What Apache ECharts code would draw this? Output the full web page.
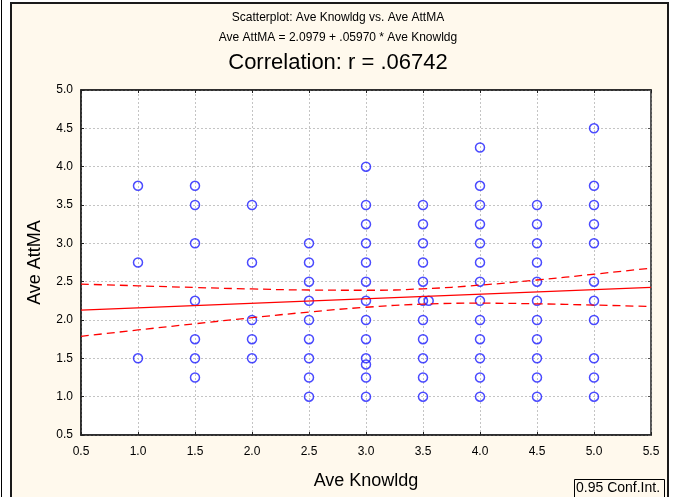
<!DOCTYPE html>
<html>
<head>
<meta charset="utf-8">
<script src="https://cdn.jsdelivr.net/npm/echarts@6/dist/echarts.min.js"></script>
<style>html,body{margin:0;padding:0;background:#fff;}#c{width:676px;height:497px;}</style>
</head>
<body>
<div id="c"></div>
<script>
// Data
var knowldg = [
  1.0,1.0,1.0,
  1.5,1.5,1.5,1.5,1.5,1.5,1.5,
  2.0,2.0,2.0,2.0,2.0,
  2.5,2.5,2.5,2.5,2.5,2.5,2.5,2.5,2.5,
  3.0,3.0,3.0,3.0,3.0,3.0,3.0,3.0,3.0,3.0,3.0,3.0,3.0,
  3.5,3.5,3.5,3.5,3.5,3.5,3.5,3.5,3.5,3.5,3.5,
  3.55,
  4.0,4.0,4.0,4.0,4.0,4.0,4.0,4.0,4.0,4.0,4.0,4.0,4.0,
  4.5,4.5,4.5,4.5,4.5,4.5,4.5,4.5,4.5,4.5,4.5,
  5.0,5.0,5.0,5.0,5.0,5.0,5.0,5.0,5.0,5.0,5.0
];
var attMA = [
  3.75,2.75,1.5,
  3.75,3.5,3.0,2.25,1.75,1.5,1.25,
  3.5,2.75,2.0,1.75,1.5,
  3.0,2.75,2.5,2.25,2.0,1.75,1.5,1.25,1.0,
  4.0,3.5,3.25,3.0,2.75,2.5,2.25,2.0,1.75,1.5,1.42,1.25,1.0,
  3.5,3.25,3.0,2.75,2.5,2.25,2.0,1.75,1.5,1.25,1.0,
  2.25,
  4.25,3.75,3.5,3.25,3.0,2.75,2.5,2.25,2.0,1.75,1.5,1.25,1.0,
  3.5,3.25,3.0,2.75,2.5,2.25,2.0,1.75,1.5,1.25,1.0,
  4.5,3.75,3.5,3.25,3.0,2.5,2.25,2.0,1.5,1.25,1.0
];
// Regression line end points and 0.95 confidence band
var fitX = [0.5, 5.5];
var fitY = [2.128, 2.426];
var bandX = [0.5, 1.0, 1.5, 2.0, 2.5, 3.0, 3.5, 4.0, 4.5, 5.0, 5.5];
var bandUpper = [2.468, 2.446, 2.424, 2.405, 2.391, 2.388, 2.407, 2.455, 2.522, 2.597, 2.677];
var bandLower = [1.787, 1.870, 1.951, 2.030, 2.104, 2.166, 2.207, 2.219, 2.211, 2.195, 2.176];

var titles = ['Scatterplot: Ave Knowldg vs. Ave AttMA', 'Ave AttMA = 2.0979 + .05970 * Ave Knowldg', 'Correlation: r = .06742'];
var xName = 'Ave Knowldg', yName = 'Ave AttMA', legendText = '0.95 Conf.Int.';

function zip(a, b) { return a.map(function (v, i) { return [v, b[i]]; }); }

var FONT = '"Liberation Sans", Arial, sans-serif';
var chart = echarts.init(document.getElementById('c'), null, { renderer: 'canvas' });
var gridLine = { show: true, lineStyle: { color: '#c4c4c4', type: [2, 2], width: 1 } };
var fmt = function (v) { return v.toFixed(1); };
chart.setOption({
  animation: false,
  backgroundColor: '#ffffff',
  graphic: [
    { type: 'line', z: -100, shape: { x1: 1.5, y1: 0, x2: 1.5, y2: 497 }, style: { stroke: '#000', lineWidth: 1 } },
    { type: 'rect', z: -100, shape: { x: 11, y: 3, width: 657, height: 510 }, style: { fill: '#FFF9ED', stroke: '#1a1a1a', lineWidth: 2 } },
    { type: 'rect', z: 100, shape: { x: 574.5, y: 479.5, width: 90, height: 22 }, style: { fill: '#FFF9ED', stroke: '#000', lineWidth: 1 } },
    { type: 'text', z: 101, left: 576, top: 481, style: { text: legendText, font: '14px ' + FONT, fill: '#000' } },
    { type: 'text', z: 101, left: 'center', top: 12, style: { text: titles[0], font: '12px ' + FONT, fill: '#000' } },
    { type: 'text', z: 101, left: 'center', top: 32, style: { text: titles[1], font: '12px ' + FONT, fill: '#000' } },
    { type: 'text', z: 101, left: 'center', top: 52, style: { text: titles[2], font: '22px ' + FONT, fill: '#000' } }
  ],
  grid: { left: 81, right: 25, top: 90, bottom: 62, show: true, backgroundColor: '#ffffff', borderColor: '#222', borderWidth: 1.5 },
  xAxis: [
    { type: 'value', min: 0.5, max: 5.5, interval: 0.5, name: xName, nameLocation: 'middle', nameGap: 37,
      nameTextStyle: { fontFamily: FONT, fontSize: 18, color: '#000' },
      axisLine: { show: true, lineStyle: { color: '#222', width: 1.5 } },
      axisTick: { show: true, inside: true, length: 3, lineStyle: { color: '#222' } },
      axisLabel: { formatter: fmt, fontFamily: FONT, fontSize: 12, color: '#000', margin: 11 },
      splitLine: gridLine },
    { type: 'value', position: 'top', min: 0.5, max: 5.5, interval: 0.5,
      axisLine: { show: true, lineStyle: { color: '#222', width: 1.5 } },
      axisTick: { show: true, inside: true, length: 3, lineStyle: { color: '#222' } },
      axisLabel: { show: false }, splitLine: { show: false } }
  ],
  yAxis: [
    { type: 'value', min: 0.5, max: 5.0, interval: 0.5, name: yName, nameLocation: 'middle', nameGap: 37, nameRotate: 90,
      nameTextStyle: { fontFamily: FONT, fontSize: 18, color: '#000' },
      axisLine: { show: true, lineStyle: { color: '#222', width: 1.5 } },
      axisTick: { show: true, inside: true, length: 3, lineStyle: { color: '#222' } },
      axisLabel: { formatter: fmt, fontFamily: FONT, fontSize: 12, color: '#000', margin: 8 },
      splitLine: gridLine },
    { type: 'value', position: 'right', min: 0.5, max: 5.0, interval: 0.5,
      axisLine: { show: true, lineStyle: { color: '#555', width: 1.5 } },
      axisTick: { show: true, inside: true, length: 3, lineStyle: { color: '#555' } },
      axisLabel: { show: false }, splitLine: { show: false } }
  ],
  series: [
    { type: 'scatter', data: zip(knowldg, attMA), symbol: 'circle', symbolSize: 9,
      itemStyle: { color: 'rgba(255,255,255,0)', borderColor: '#1e1eff', borderWidth: 1.5 }, z: 3 },
    { type: 'line', data: zip(fitX, fitY), symbol: 'none', lineStyle: { color: '#ff0000', width: 1.3 }, z: 4 },
    { type: 'line', data: zip(bandX, bandUpper), smooth: true, symbol: 'none', lineStyle: { color: '#ff0000', width: 1.3, type: [8, 5] }, z: 4 },
    { type: 'line', data: zip(bandX, bandLower), smooth: true, symbol: 'none', lineStyle: { color: '#ff0000', width: 1.3, type: [8, 5] }, z: 4 }
  ]
});
</script>
</body>
</html>
